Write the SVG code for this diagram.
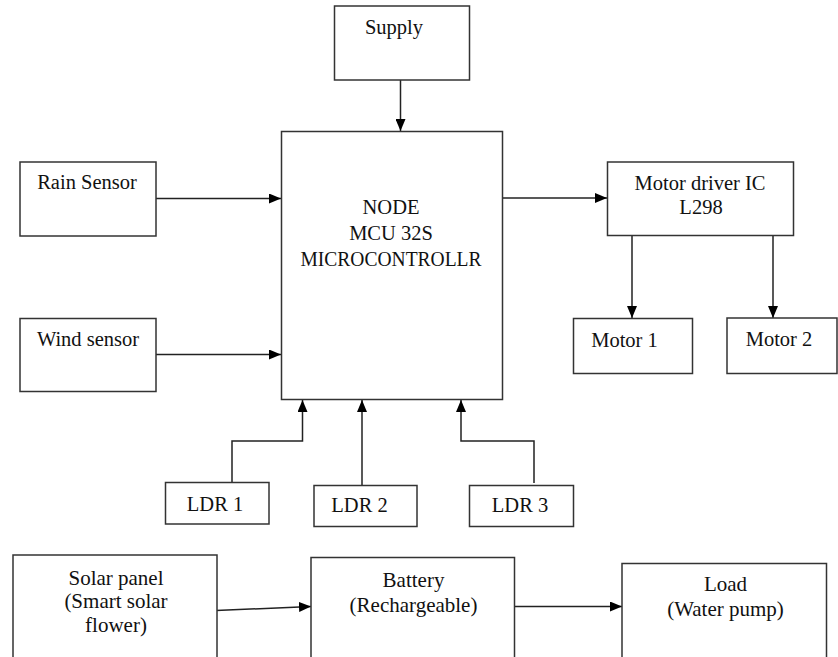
<svg xmlns="http://www.w3.org/2000/svg" width="838" height="657" viewBox="0 0 838 657">
<style>
rect.b{fill:#fff;stroke:#333;stroke-width:1.5}
text{font-family:"Liberation Serif","Times New Roman",serif;font-size:20.5px;fill:#111;text-anchor:middle}
text.s{font-size:21px}
.c line,.c polyline{fill:none;stroke:#222;stroke-width:1.5}
</style>
<defs>
<marker id="ah" markerUnits="userSpaceOnUse" markerWidth="12" markerHeight="10" refX="12" refY="5" orient="auto">
<path d="M0,0 L12,5 L0,10 z" fill="#000"/>
</marker>
</defs>
<rect width="838" height="657" fill="#fff"/>
<g class="c">
<line x1="400.5" y1="80" x2="400.5" y2="131" marker-end="url(#ah)"/>
<line x1="156" y1="198.5" x2="281" y2="198.5" marker-end="url(#ah)"/>
<line x1="156" y1="354.5" x2="281" y2="354.5" marker-end="url(#ah)"/>
<line x1="503" y1="198" x2="607" y2="198" marker-end="url(#ah)"/>
<line x1="632" y1="235" x2="632" y2="318" marker-end="url(#ah)"/>
<line x1="773" y1="235" x2="773" y2="318" marker-end="url(#ah)"/>
<polyline points="232,482 232,441 302.5,441 302.5,400" marker-end="url(#ah)"/>
<line x1="362" y1="485" x2="362" y2="400" marker-end="url(#ah)"/>
<polyline points="534,483 534,441 461,441 461,400" marker-end="url(#ah)"/>
<line x1="216" y1="610.5" x2="311" y2="606.5" marker-end="url(#ah)"/>
<line x1="514" y1="606.5" x2="622" y2="606.5" marker-end="url(#ah)"/>
</g>
<g id="supply"><rect class="b" x="334.5" y="6" width="135" height="74"/><text x="394" y="34">Supply</text></g>
<g id="node"><rect class="b" x="281.5" y="131.5" width="221" height="268"/>
<text x="391" y="214" font-size="20">NODE</text><text x="391" y="240" font-size="20">MCU 32S</text><text x="391" y="265.5" font-size="20" textLength="181" lengthAdjust="spacingAndGlyphs">MICROCONTROLLR</text></g>
<g id="rain"><rect class="b" x="20" y="162" width="136" height="74"/><text x="87" y="189">Rain Sensor</text></g>
<g id="wind"><rect class="b" x="20" y="318.5" width="136" height="73"/><text x="88" y="346">Wind sensor</text></g>
<g id="driver"><rect class="b" x="607.5" y="162" width="186" height="73.5"/><text x="700" y="190">Motor driver IC</text><text x="701" y="214">L298</text></g>
<g id="motor1"><rect class="b" x="573.5" y="318.5" width="119" height="55"/><text x="624.5" y="346.5">Motor 1</text></g>
<g id="motor2"><rect class="b" x="727" y="318" width="110" height="55.5"/><text x="779" y="346">Motor 2</text></g>
<g id="ldr1"><rect class="b" x="165.5" y="482.5" width="103.5" height="41.5"/><text x="215" y="511">LDR 1</text></g>
<g id="ldr2"><rect class="b" x="314" y="485.5" width="103" height="41"/><text x="359.5" y="512">LDR 2</text></g>
<g id="ldr3"><rect class="b" x="469.5" y="485.5" width="104" height="41"/><text x="520" y="512">LDR 3</text></g>
<g id="solar"><rect class="b" x="13" y="555" width="204" height="110"/>
<text class="s" x="116" y="585">Solar panel</text><text class="s" x="116" y="608">(Smart solar</text><text class="s" x="116" y="632">flower)</text></g>
<g id="battery"><rect class="b" x="311" y="557.5" width="203.5" height="110"/>
<text class="s" x="413.5" y="587">Battery</text><text class="s" x="413.5" y="612">(Rechargeable)</text></g>
<g id="load"><rect class="b" x="622" y="563.5" width="204.5" height="110"/>
<text class="s" x="725.5" y="590.5">Load</text><text class="s" x="725.5" y="616">(Water pump)</text></g>
</svg>
